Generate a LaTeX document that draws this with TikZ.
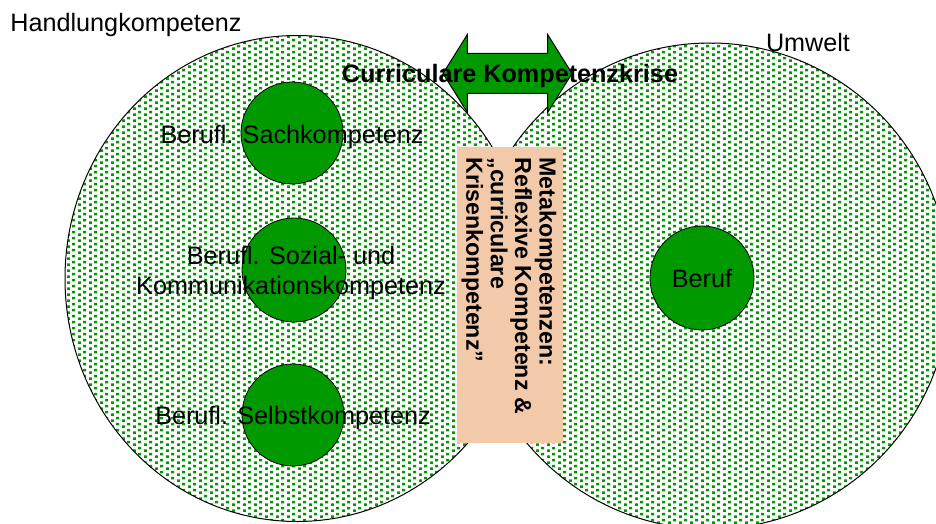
\documentclass[tikz,border=0pt]{standalone}
\usepackage{fontspec}
\setmainfont{Liberation Sans}
\usepackage{xcolor}
\usepackage{tikz}
\usetikzlibrary{positioning,shapes.geometric,shapes.arrows,patterns}

\definecolor{dotgreen}{RGB}{0,153,0}
\definecolor{peach}{RGB}{242,202,170}

\pgfdeclarepatternformonly{greendots}{\pgfpointorigin}{\pgfpoint{5.6pt}{3pt}}{\pgfpoint{5.6pt}{3pt}}{%
  \pgfpathrectangle{\pgfpointorigin}{\pgfpoint{1.6pt}{1.5pt}}%
  \pgfpathrectangle{\pgfpoint{2.8pt}{1.5pt}}{\pgfpoint{1.6pt}{1.5pt}}%
  \pgfusepath{fill}%
}

\begin{document}
\begin{tikzpicture}[
    x=0.5pt, y=-0.5pt,
    txt/.style={font=\fontsize{12.6}{15.1}\selectfont,align=center,inner sep=0pt},
    boldtxt/.style={txt,font=\bfseries\fontsize{12.6}{15.1}\selectfont},
    area/.style={ellipse,draw,line width=0.5pt,pattern=greendots,pattern color=dotgreen,inner sep=0pt},
    ball/.style={circle,draw,line width=0.4pt,fill=dotgreen,minimum size=51pt,inner sep=0pt}
]
\useasboundingbox (0,0) rectangle (936,524);
\clip (0,0) rectangle (936,524);

% two fields
\node[area,minimum width=232pt,minimum height=243pt] (komp) at (297,278.5) {};
\node[area,minimum width=240pt,minimum height=243pt] (umwelt) at (710,286) {};

\node[txt,anchor=base west] (komptxt) at (10,32) {Handlungkompetenz};
\node[txt,anchor=base] (umwelttxt) at (808,52) {Umwelt};

% competences
\node[ball] (sach) at (292,133) {};
\node[ball,minimum size=52pt] (sozial) at (294,270) {};
\node[ball] (selbst) at (293,415) {};
\node[ball,minimum size=52pt] (beruf) at (702,278) {};

\node[txt,anchor=base] (sachtxt) at (292,143) {Berufl. Sachkompetenz};
\node[txt] (sozialtxt) at (291,273) {Berufl. Sozial- und\\Kommunikationskompetenz};
\node[txt,anchor=base] (selbsttxt) at (293,424) {Berufl. Selbstkompetenz};
\node[txt,anchor=base] (beruftxt) at (702,287) {Beruf};

% meta box
\node[fill=peach,minimum width=53pt,minimum height=148pt,inner sep=0pt] (meta) at (510,295) {};
\node[rotate=-90,anchor=west,align=left,inner sep=0pt,
      font=\bfseries\fontsize{11.6}{12.2}\selectfont] (metatxt) at (509,157)
  {Metakompetenzen:\\Reflexive Kompetenz \&\\„curriculare\\Krisenkompetenz”};

% crisis arrow
\node[double arrow,draw,line width=0.5pt,fill=dotgreen,inner xsep=0pt,inner ysep=9.75pt,
      minimum height=64.5pt,
      double arrow head extend=9.5pt,double arrow tip angle=116] (krise) at (507.5,73.5) {};
\node[boldtxt,anchor=base] (krisetxt) at (510,83) {Curriculare Kompetenzkrise};
\end{tikzpicture}
\end{document}
